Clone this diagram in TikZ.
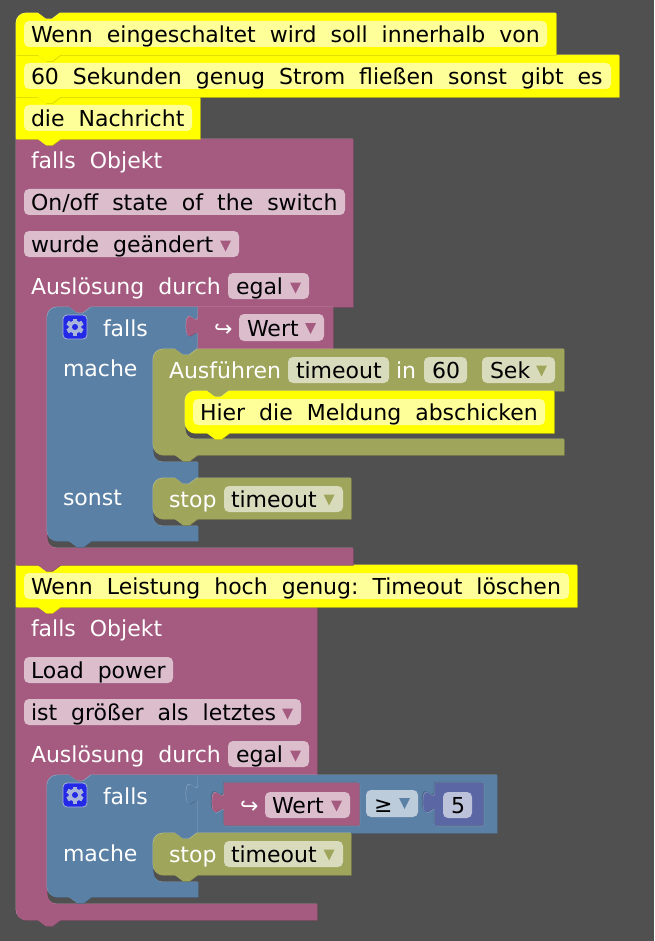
\documentclass[tikz,border=0pt]{standalone}
\usepackage{fontspec}
\setmainfont{DejaVu Sans}
\definecolor{bgC}{HTML}{505050}
\definecolor{pinkM}{HTML}{A55B80}\definecolor{pinkL}{HTML}{C08CA6}\definecolor{pinkD}{HTML}{844966}\definecolor{pinkF}{HTML}{DBBDCC}
\definecolor{blueM}{HTML}{5B80A5}\definecolor{blueL}{HTML}{8CA6C0}\definecolor{blueD}{HTML}{496684}\definecolor{blueF}{HTML}{BDCCDB}
\definecolor{oliveM}{HTML}{9FA55B}\definecolor{oliveL}{HTML}{BCC08C}\definecolor{oliveD}{HTML}{7F8449}\definecolor{oliveF}{HTML}{D9DBBD}
\definecolor{purpM}{HTML}{5B67A5}\definecolor{purpL}{HTML}{8C95C0}\definecolor{purpD}{HTML}{495284}\definecolor{purpF}{HTML}{BDC2DB}
\definecolor{yelM}{HTML}{FFFF00}\definecolor{yelL}{HTML}{FFFF4D}\definecolor{yelD}{HTML}{CCCC00}\definecolor{yelF}{HTML}{FFFF99}
\definecolor{iconC}{HTML}{2329E6}\definecolor{gearC}{HTML}{A9B6D9}
% path pieces
\newcommand\nTop[2]{-- (#1+22,#2) -- (#1+30,#2+6) -- (#1+36,#2+6) -- (#1+44,#2)}
\newcommand\nBot[2]{-- (#1+44,#2) -- (#1+36,#2+6) -- (#1+30,#2+6) -- (#1+22,#2)}
\newcommand\cTL[2]{(#1,#2+10) .. controls (#1,#2+4.5) and (#1+4.5,#2) .. (#1+10,#2)}
\newcommand\cBL[2]{-- (#1+10,#2) .. controls (#1+4.5,#2) and (#1,#2-4.5) .. (#1,#2-10)}
\newcommand\cutIn[4]{-- (#4,#2) \nBot{#1}{#2} -- (#1+10,#2) .. controls (#1+4.5,#2) and (#1,#2+4.5) .. (#1,#2+10) -- (#1,#3-10) .. controls (#1,#3-4.5) and (#1+4.5,#3) .. (#1+10,#3) -- (#4,#3)}
\newcommand\pTab[2]{-- (#1,#2+22) .. controls (#1,#2+7) and (#1-12,#2+34) .. (#1-12,#2+11) .. controls (#1-12,#2-12) and (#1,#2+15) .. (#1,#2)}
% embossed block
\newcommand\blk[2]{%
  \fill[#1D,shift={(0.7,0.7)}] #2;
  \fill[#1L,shift={(-0.3,-0.3)}] #2;
  \fill[#1M,shift={(0.2,0.2)}] #2;}
% socket in a parent block
\newcommand\sock[2]{%
  \fill[#1D,shift={(-1.2,-1.2)}] #2;
  \fill[#1L,shift={(1.2,1.2)}] #2;}
\newcommand\fld[5]{\fill[#5,rounded corners=5pt] (#1,#2) rectangle (#3,#4);}
\newcommand\tri[3]{\fill[#3] (#1-5.5,#2) -- (#1+5.5,#2) -- (#1,#2+11) -- cycle;}
\newcommand\gearicon[2]{%
  \fill[iconC,draw=gearC,line width=0.8pt,rounded corners=4pt] (#1-12,#2-12) rectangle (#1+12,#2+12);
  \foreach \a in {0,60,...,300}{\fill[gearC,rotate around={\a:(#1,#2)}] (#1-2.2,#2-8.5) rectangle (#1+2.2,#2+8.5);}
  \fill[gearC] (#1,#2) circle[radius=6.5];
  \fill[iconC] (#1,#2) circle[radius=3];}
\newcommand\wtxt[4]{\node[labeltext] (#1) at (#2,#3) {#4};}
\newcommand\btxt[4]{\node[fieldtext] (#1) at (#2,#3) {#4};}
\begin{document}
\begin{tikzpicture}[x=1pt,y=-1pt,
  basetext/.style={inner sep=0pt,outer sep=0pt,anchor=base west,yshift=-0.5pt,font=\fontsize{22}{26}\selectfont},
  labeltext/.style={basetext,text=white},
  fieldtext/.style={basetext,text=black}]
\useasboundingbox (0,0) rectangle (654,941);
\fill[bgC] (0,0) rectangle (654,941);

% ===== second group =====
\blk{pink}{(16,607) \nTop{16}{607} -- (317,607) -- (317,775) \cutIn{47}{775}{904}{317} -- (317,920) \nBot{16}{920} \cBL{16}{920} -- cycle}
\wtxt{fo2}{31}{636}{falls~~Objekt}
\fld{24}{657}{173}{683}{pinkF}\btxt{lp}{31}{678}{Load~~power}
\fld{24}{699}{301}{725}{pinkF}\btxt{ig}{31}{720}{ist~~größer~~als~~letztes}\tri{287.5}{708.5}{pinkM}
\wtxt{ad2}{31}{762}{Auslösung~~durch}
\fld{228}{741}{309}{767}{pinkF}\btxt{eg2}{236}{762}{egal}\tri{295.5}{750.5}{pinkM}

\blk{blue}{\cTL{47}{775} \nTop{47}{775} -- (198,775) -- (198,833) \cutIn{153}{833}{882}{198} -- (198,897) \nBot{47}{897} \cBL{47}{897} -- cycle}
\gearicon{75}{795}
\wtxt{fa2}{103}{804}{falls}
\wtxt{ma2}{63}{861}{mache}

\blk{blue}{(198,775) -- (497,775) -- (497,833) -- (198,833) \pTab{198}{783} -- cycle}
\sock{blue}{(224,783) -- (359,783) -- (359,825) -- (224,825) \pTab{224}{791} -- cycle}
\blk{pink}{(224,783) -- (359,783) -- (359,825) -- (224,825) \pTab{224}{791} -- cycle}
\wtxt{ar2}{240}{813}{↪}
\fld{265}{792}{350}{818}{pinkF}\btxt{we2}{272}{813}{Wert}\tri{336.5}{800.5}{pinkM}
\fld{366}{790}{418}{817}{blueF}\btxt{ge}{374}{812}{≥}\tri{404.5}{798}{blueM}
\sock{blue}{(435,783) -- (483,783) -- (483,825) -- (435,825) \pTab{435}{791} -- cycle}
\blk{purp}{(435,783) -- (483,783) -- (483,825) -- (435,825) \pTab{435}{791} -- cycle}
\fld{443}{792}{472}{818}{purpF}\btxt{five}{451}{813}{5}

\blk{olive}{\cTL{153}{833} \nTop{153}{833} -- (351,833) -- (351,875) \nBot{153}{875} \cBL{153}{875} -- cycle}
\wtxt{st2}{169}{862}{stop}
\fld{224}{841}{343}{867}{oliveF}\btxt{to2}{231}{862}{timeout}\tri{329}{849.5}{oliveM}

% yellow comment 4
\blk{yel}{(16,565) \nTop{16}{565} -- (577,565) -- (577,607) \nBot{16}{607} -- (16,607) -- cycle}
\fld{24}{573}{569}{599}{yelF}\btxt{y4}{31}{594}{Wenn~~Leistung~~hoch~~genug:~~Timeout~~löschen}

% ===== first group =====
\blk{pink}{(16,139) \nTop{16}{139} -- (353,139) -- (353,307) \cutIn{47}{307}{548}{353} -- (353,565) \nBot{16}{565} -- (16,565) -- cycle}
\wtxt{fo1}{31}{168}{falls~~Objekt}
\fld{24}{189}{345}{215}{pinkF}\btxt{oo}{31}{210}{On/off~~state~~of~~the~~switch}
\fld{24}{231}{239}{257}{pinkF}\btxt{wg}{31}{252}{wurde~~geändert}\tri{225.5}{240.5}{pinkM}
\wtxt{ad1}{31}{294}{Auslösung~~durch}
\fld{228}{273}{309}{299}{pinkF}\btxt{eg1}{236}{294}{egal}\tri{295.5}{282.5}{pinkM}

\blk{blue}{\cTL{47}{307} \nTop{47}{307} -- (198,307) -- (198,349) \cutIn{153}{349}{462}{198} -- (198,478) \cutIn{153}{478}{526}{198} -- (198,541) \nBot{47}{541} \cBL{47}{541} -- cycle}
\gearicon{75}{327}
\wtxt{fa1}{103}{336}{falls}
\wtxt{ma1}{63}{376}{mache}
\wtxt{so1}{63}{505}{sonst}

\blk{pink}{(198,307) -- (333,307) -- (333,349) -- (198,349) \pTab{198}{315} -- cycle}
\wtxt{ar1}{214}{336}{↪}
\fld{239}{314}{324}{341}{pinkF}\btxt{we1}{247}{336}{Wert}\tri{310.5}{323}{pinkM}

\blk{olive}{\cTL{153}{349} \nTop{153}{349} -- (564,349) -- (564,391) \cutIn{185}{391}{439}{564} -- (564,455) \nBot{153}{455} \cBL{153}{455} -- cycle}
\wtxt{au}{169}{378}{Ausführen}
\fld{288}{357}{389}{383}{oliveF}\btxt{to1}{296}{378}{timeout}
\wtxt{in}{396}{378}{in}
\fld{424}{357}{467}{383}{oliveF}\btxt{sx}{432}{378}{60}
\fld{482}{357}{555}{383}{oliveF}\btxt{se}{490}{378}{Sek}\tri{541.5}{365.5}{oliveM}

\blk{yel}{\cTL{185}{391} \nTop{185}{391} -- (554,391) -- (554,433) \nBot{185}{433} \cBL{185}{433} -- cycle}
\fld{193}{399}{545}{425}{yelF}\btxt{hi}{200}{420}{Hier~~die~~Meldung~~abschicken}

\blk{olive}{\cTL{153}{478} \nTop{153}{478} -- (351,478) -- (351,519) \nBot{153}{519} \cBL{153}{519} -- cycle}
\wtxt{st1}{169}{507}{stop}
\fld{224}{486}{343}{512}{oliveF}\btxt{to3}{231}{507}{timeout}\tri{329}{494.5}{oliveM}

% yellow comments 3,2,1
\blk{yel}{(16,97) \nTop{16}{97} -- (200,97) -- (200,139) \nBot{16}{139} -- (16,139) -- cycle}
\fld{24}{105}{192}{131}{yelF}\btxt{y3}{31}{126}{die~~Nachricht}
\blk{yel}{(16,55) \nTop{16}{55} -- (619,55) -- (619,97) \nBot{16}{97} -- (16,97) -- cycle}
\fld{24}{63}{611}{89}{yelF}\btxt{y2}{31}{84}{60~~Sekunden~~genug~~Strom~~fließen~~sonst~~gibt~~es}
\blk{yel}{\cTL{16}{13} \nTop{16}{13} -- (556,13) -- (556,55) \nBot{16}{55} -- (16,55) -- cycle}
\fld{24}{21}{547}{47}{yelF}\btxt{y1}{31}{42}{Wenn~~eingeschaltet~~wird~~soll~~innerhalb~~von}
\end{tikzpicture}
\end{document}
